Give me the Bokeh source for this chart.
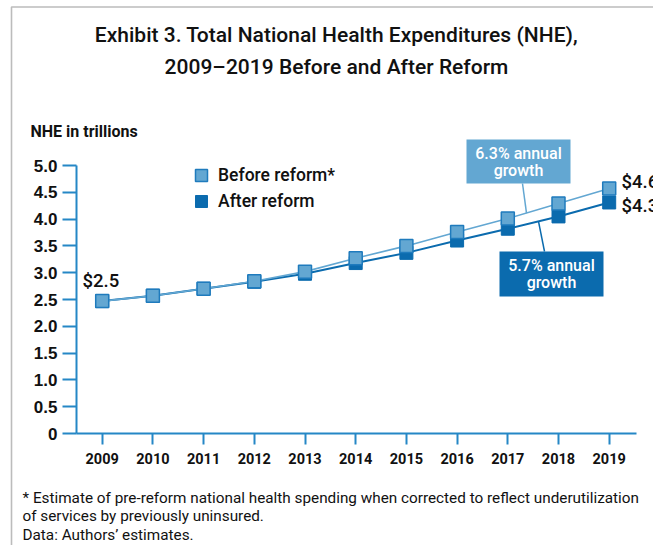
from bokeh.plotting import figure
from bokeh.models import Label, Legend, LegendItem, FixedTicker, BoxAnnotation
from bokeh.embed import file_html
from bokeh.resources import INLINE

# ---- data ----
years = [2009, 2010, 2011, 2012, 2013, 2014, 2015, 2016, 2017, 2018, 2019]
before_reform = [2.47, 2.57, 2.70, 2.84, 3.02, 3.27, 3.50, 3.76, 4.01, 4.29, 4.57]
after_reform = [2.47, 2.57, 2.70, 2.83, 2.98, 3.18, 3.37, 3.60, 3.82, 4.05, 4.31]
y_ticks = [0, 0.5, 1.0, 1.5, 2.0, 2.5, 3.0, 3.5, 4.0, 4.5, 5.0]
y_tick_labels = ["0", "0.5", "1.0", "1.5", "2.0", "2.5", "3.0", "3.5", "4.0", "4.5", "5.0"]
series_names = ["Before reform*", "After reform"]
growth_labels = [("6.3% annual", "growth"), ("5.7% annual", "growth")]
title_lines = ["Exhibit 3. Total National Health Expenditures (NHE),",
               "2009\u20132019 Before and After Reform"]
y_title = "NHE in trillions"
footnotes = ["* Estimate of pre-reform national health spending when corrected to reflect underutilization",
             "of services by previously uninsured.",
             "Data: Authors\u2019 estimates."]

# ---- style ----
LIGHT = "#63a7d2"
DARK = "#0b6bae"
AXIS = "#2587c6"
COND = "Roboto"
MEDIUM = "'Roboto Medium', Roboto"
SANS = "Liberation Sans"

W, H = 653, 545
# pixel geometry of the chart area (frame covers the whole canvas)
PX_2009, PX_PER_YEAR = 101.7, 50.7
PY_ZERO, PX_PER_UNIT = 433.0, 53.6
X0 = 2009 - PX_2009 / PX_PER_YEAR
X1 = X0 + W / PX_PER_YEAR
Y1 = PY_ZERO / PX_PER_UNIT
Y0 = Y1 - H / PX_PER_UNIT

def px_x(px):
    return X0 + px / PX_PER_YEAR

def px_y(py):
    return Y1 - py / PX_PER_UNIT

p = figure(width=W, height=H, x_range=(X0, X1), y_range=(Y0, Y1),
           output_backend="svg", toolbar_location=None,
           min_border=0)
p.border_fill_color = "white"
p.background_fill_color = "white"
p.outline_line_color = None
p.xgrid.visible = False
p.ygrid.visible = False

# axes
for ax in (p.xaxis[0], p.yaxis[0]):
    ax.axis_line_color = AXIS
    ax.axis_line_width = 2
    ax.major_tick_line_color = AXIS
    ax.major_tick_line_width = 2
    ax.major_tick_in = 0
    ax.minor_tick_line_color = None
    ax.major_label_text_color = "#111111"
    ax.major_label_text_font_style = "bold"

p.yaxis.ticker = FixedTicker(ticks=y_ticks)
p.yaxis.major_label_overrides = {t: l for t, l in zip(y_ticks, y_tick_labels)}
p.yaxis.major_tick_out = 14
p.yaxis.major_label_standoff = 5
p.yaxis.bounds = (0, 5)
p.yaxis.fixed_location = px_x(76)
p.yaxis.major_label_text_font = SANS
p.yaxis.major_label_text_font_size = "17px"

p.xaxis.ticker = FixedTicker(ticks=years)
p.xaxis.major_tick_out = 11
p.xaxis.major_label_standoff = 8
p.xaxis.fixed_location = 0
p.xaxis.bounds = (px_x(76), px_x(636))
p.xaxis.major_label_text_font = COND
p.xaxis.major_label_text_font_size = "14.5px"

# frame border of the exhibit
p.add_layout(BoxAnnotation(left=px_x(11), top=px_y(6.5), right=px_x(700), bottom=px_y(600),
                           fill_color=None, line_color="#222222", line_width=1.6))

# series
p.line(years, after_reform, line_color=DARK, line_width=2)
after_sc = p.scatter(years, after_reform, marker="square", size=13,
                     fill_color=DARK, line_color=DARK, line_width=1)
p.line(years, before_reform, line_color=LIGHT, line_width=1.6)
before_sc = p.scatter(years, before_reform, marker="square", size=13,
                      fill_color=LIGHT, line_color="#1f7bbd", line_width=1.5)

# legends (one per item)
for name, rend, cy in ((series_names[0], before_sc, 174.5), (series_names[1], after_sc, 200.5)):
    lg = Legend(items=[LegendItem(label=name, renderers=[rend])],
                location=(186, H - (cy + 16)),
                glyph_width=30, glyph_height=32, label_standoff=2, padding=0, margin=0,
                border_line_color=None, background_fill_color=None,
                label_text_font=MEDIUM, label_text_font_size="17.5px", label_text_color="#111111")
    p.add_layout(lg)

def label(text, x, y, size, font=COND, color="#111111", align="left", style="normal"):
    p.add_layout(Label(x=x, y=y, text=text, text_font=font, text_font_size=size,
                       text_color=color, text_align=align, text_baseline="middle",
                       text_font_style=style))

# title
label(title_lines[0], px_x(336), px_y(34), "21px", font=MEDIUM, align="center")
label(title_lines[1], px_x(336), px_y(66), "21px", font=MEDIUM, align="center")
label(y_title, px_x(30), px_y(131), "16px", style="bold")

# value labels
label("$%.1f" % before_reform[0], px_x(82), px_y(280), "18.5px", font=MEDIUM)
label("$%.1f" % before_reform[-1], px_x(621), px_y(181), "18.5px", font=MEDIUM)
label("$%.1f" % after_reform[-1], px_x(621), px_y(205), "18.5px", font=MEDIUM)

# growth callouts
def interp(xs, ys, x):
    for i in range(len(xs) - 1):
        if xs[i] <= x <= xs[i + 1]:
            t = (x - xs[i]) / (xs[i + 1] - xs[i])
            return ys[i] + t * (ys[i + 1] - ys[i])
    return ys[-1]

xa = px_x(526)
p.segment(x0=[px_x(522)], y0=[px_y(183)], x1=[xa], y1=[interp(years, before_reform, xa)],
          line_color=LIGHT, line_width=1.5)
xb = px_x(538)
p.segment(x0=[px_x(544)], y0=[px_y(251)], x1=[xb], y1=[interp(years, after_reform, xb)],
          line_color=DARK, line_width=1.5)

p.add_layout(BoxAnnotation(left=px_x(466), right=px_x(570), top=px_y(139), bottom=px_y(183),
                           fill_color=LIGHT, fill_alpha=1, line_color=None))
p.add_layout(BoxAnnotation(left=px_x(499), right=px_x(603), top=px_y(251), bottom=px_y(296),
                           fill_color=DARK, fill_alpha=1, line_color=None))
label(growth_labels[0][0], px_x(518), px_y(153), "16px", font=MEDIUM, color="white", align="center")
label(growth_labels[0][1], px_x(518), px_y(170), "16px", font=MEDIUM, color="white", align="center")
label(growth_labels[1][0], px_x(551), px_y(265), "16px", font=MEDIUM, color="white", align="center")
label(growth_labels[1][1], px_x(551), px_y(282), "16px", font=MEDIUM, color="white", align="center")

# footnotes
label(footnotes[0], px_x(22), px_y(497), "15.3px")
label(footnotes[1], px_x(22), px_y(515), "15.3px")
label(footnotes[2], px_x(22), px_y(534), "15.3px")

open("out.html", "w").write(file_html(p, INLINE))
